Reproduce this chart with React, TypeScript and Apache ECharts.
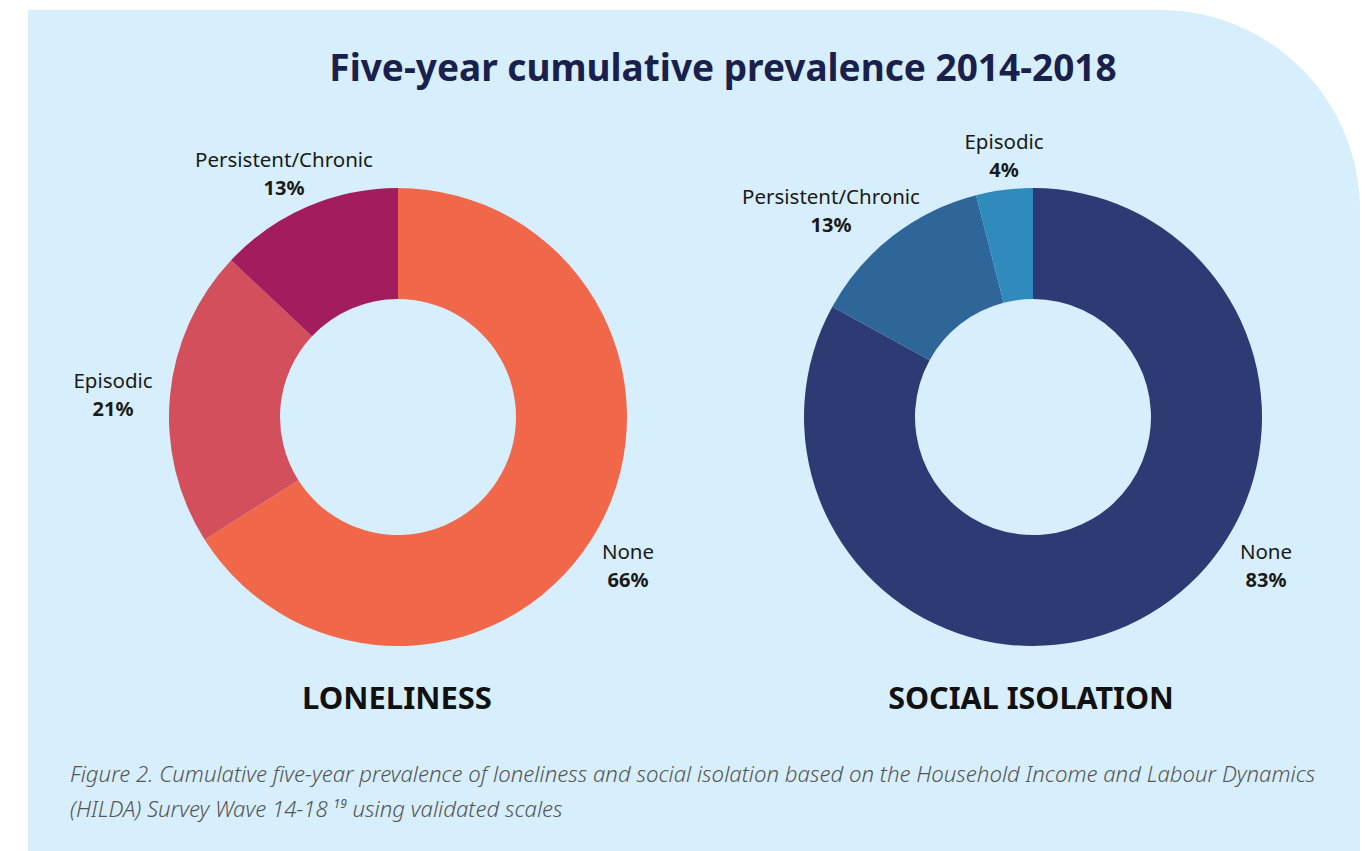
import React, { useEffect, useRef } from "react";
import * as echarts from "echarts";

const lonelinessCategories = ["None", "Episodic", "Persistent/Chronic"];
const lonelinessValues = [66, 21, 13];
const lonelinessColors = ["#F0674A", "#D44F5C", "#A31C5E"];

const isolationCategories = ["None", "Persistent/Chronic", "Episodic"];
const isolationValues = [83, 13, 4];
const isolationColors = ["#2D3A73", "#2E6699", "#2E8BBB"];

const titleText = "Five-year cumulative prevalence 2014-2018";
const chartTitles = ["LONELINESS", "SOCIAL ISOLATION"];
const captionLines = [
  "Figure 2. Cumulative five-year prevalence of loneliness and social isolation based on the Household Income and Labour Dynamics",
  "(HILDA) Survey Wave 14-18 {sup|19} using validated scales",
];

// label anchor positions (layout only)
const labelPos = [
  [
    { x: 628, y: 565 },
    { x: 113, y: 394 },
    { x: 284, y: 173 },
  ],
  [
    { x: 1266, y: 565 },
    { x: 831, y: 210 },
    { x: 1004, y: 155 },
  ],
];

export default function App() {
  const ref = useRef<HTMLDivElement>(null);
  useEffect(() => {
    if (!ref.current) return;
    const chart = echarts.init(ref.current, undefined, { renderer: "svg" });
    const font = "'Noto Sans', sans-serif";
    const makeSeries = (idx: number, cats: string[], vals: number[], colors: string[], cx: number) => ({
      type: "pie",
      center: [cx, 417],
      radius: [118, 229],
      startAngle: 90,
      clockwise: true,
      silent: true,
      data: cats.map((c, i) => ({ name: c, value: vals[i], itemStyle: { color: colors[i] } })),
      label: {
        show: true,
        position: "outside",
        formatter: (p: any) => `{n|${p.name}}\n{v|${p.value}%}`,
        align: "center",
        rich: {
          n: { fontFamily: font, fontSize: 20.5, color: "#1a1a1a", lineHeight: 28, align: "center" },
          v: { fontFamily: font, fontSize: 20, fontWeight: "bold", color: "#1a1a1a", lineHeight: 28, align: "center" },
        },
      },
      labelLine: { show: false },
      labelLayout: (p: any) => {
        const pos = labelPos[idx][p.dataIndex];
        return { x: pos.x, y: pos.y, align: "center", verticalAlign: "middle" };
      },
    });
    chart.setOption({
      animation: false,
      graphic: [
        {
          type: "rect",
          z: -10,
          shape: { x: 28, y: 10, width: 1332, height: 900, r: [0, 200, 0, 0] },
          style: { fill: "#D7EEFD" },
        },
        {
          type: "text",
          x: 723,
          y: 66,
          style: {
            text: titleText,
            font: `bold 37px ${font}`,
            fill: "#1B1F4B",
            align: "center",
            verticalAlign: "middle",
          },
        },
        {
          type: "text",
          x: 397,
          y: 697,
          style: { text: chartTitles[0], font: `bold 31px ${font}`, fill: "#111", align: "center", verticalAlign: "middle" },
        },
        {
          type: "text",
          x: 1031,
          y: 697,
          style: { text: chartTitles[1], font: `bold 30.5px ${font}`, fill: "#111", align: "center", verticalAlign: "middle" },
        },
        {
          type: "text",
          x: 70,
          y: 773,
          style: {
            text: captionLines[0],
            font: `italic 300 22.2px 'Noto Sans', sans-serif`,
            fill: "#555",
            align: "left",
            verticalAlign: "middle",
          },
        },
        {
          type: "text",
          x: 70,
          y: 808,
          style: {
            text: captionLines[1],
            font: `italic 300 22.2px 'Noto Sans', sans-serif`,
            fill: "#555",
            align: "left",
            verticalAlign: "middle",
            rich: {
              sup: { fontSize: 12, fontFamily: "Noto Sans", fontStyle: "italic", verticalAlign: "top", padding: [0, 0, 9, 0], fill: "#555" },
            },
          },
        },
      ],
      series: [
        makeSeries(0, lonelinessCategories, lonelinessValues, lonelinessColors, 398),
        makeSeries(1, isolationCategories, isolationValues, isolationColors, 1033),
      ],
    });
    return () => chart.dispose();
  }, []);
  return <div ref={ref} style={{ position: "fixed", left: 0, top: 0, width: 1371, height: 851, background: "#fff" }} />;
}
